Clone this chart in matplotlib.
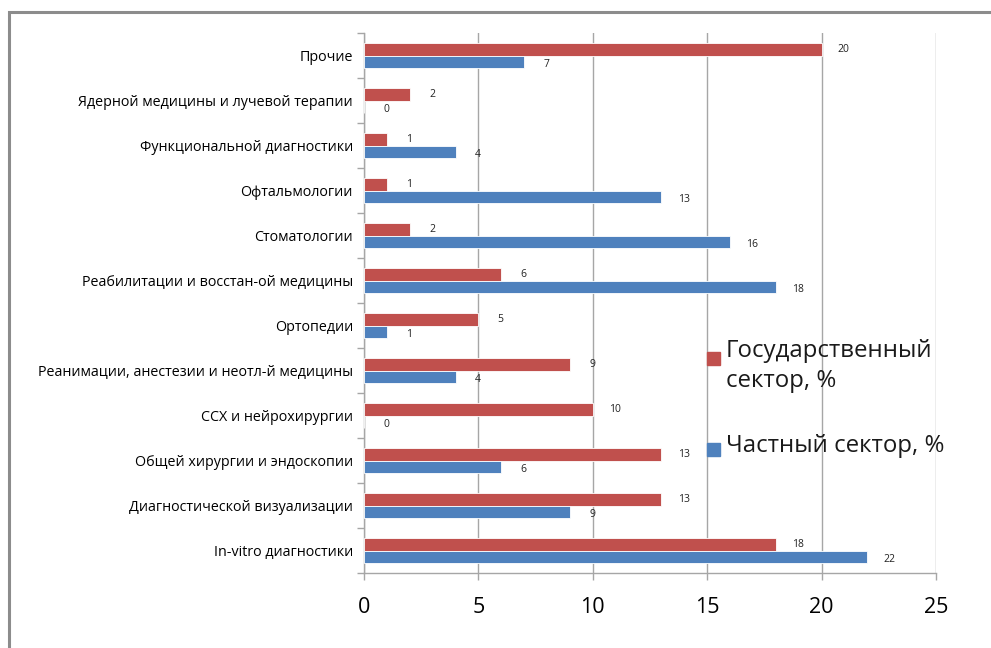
import matplotlib
matplotlib.use("Agg")
import matplotlib.pyplot as plt
from matplotlib.patches import Rectangle
import numpy as np

plt.rcParams['font.family'] = ['Open Sans', 'DejaVu Sans']

categories = [
    "In-vitro диагностики",
    "Диагностической визуализации",
    "Общей хирургии и эндоскопии",
    "ССХ и нейрохирургии",
    "Реанимации, анестезии и неотл-й медицины",
    "Ортопедии",
    "Реабилитации и восстан-ой медицины",
    "Стоматологии",
    "Офтальмологии",
    "Функциональной диагностики",
    "Ядерной медицины и лучевой терапии",
    "Прочие",
]
gov_values = [18, 13, 13, 10, 9, 5, 6, 2, 1, 1, 2, 20]
private_values = [22, 9, 6, 0, 4, 1, 18, 16, 13, 4, 0, 7]
gov_label = "Государственный\nсектор, %"
private_label = "Частный сектор, %"
x_ticks = [0, 5, 10, 15, 20, 25]

RED = "#C0504D"
BLUE = "#4F81BD"
GRID = "#A6A6A6"

fig = plt.figure(figsize=(9.91, 6.48), dpi=100)
# outer chart frame
fig.patches.append(Rectangle((9 / 991, -0.05), 1.2, 1.05 - 12 / 648,
                             transform=fig.transFigure, fill=False,
                             edgecolor="#8C8C8C", linewidth=2.2))

ax = fig.add_axes([364 / 991, 1 - 573 / 648, 572 / 991, 540 / 648])

y = np.arange(len(categories))
h = 0.27
ax.barh(y + h / 2, gov_values, height=h, color=RED, edgecolor="white", linewidth=0.6, zorder=3)
ax.barh(y - h / 2, private_values, height=h, color=BLUE, edgecolor="white", linewidth=0.6, zorder=3)

for yi, v in zip(y, gov_values):
    ax.annotate(str(v), (v, yi + h / 2), xytext=(16, 0), textcoords="offset points",
                ha="center", va="center", fontsize=7.5, color="#222222")
for yi, v in zip(y, private_values):
    ax.annotate(str(v), (v, yi - h / 2), xytext=(16, -2), textcoords="offset points",
                ha="center", va="center", fontsize=7.5, color="#222222")

ax.set_xlim(0, 25)
ax.set_ylim(-0.5, len(categories) - 0.5)
ax.set_xticks(x_ticks)
ax.set_xticklabels([str(t) for t in x_ticks], fontsize=15.5)
ax.set_yticks(y)
ax.set_yticklabels(categories, fontsize=10.3)
ax.set_yticks(np.arange(len(categories) + 1) - 0.5, minor=True)
ax.tick_params(axis="y", which="major", length=0, pad=8)
ax.tick_params(axis="y", which="minor", length=5, color=GRID, width=1)
ax.tick_params(axis="x", length=5, color=GRID, width=1, pad=12)

ax.grid(axis="x", color=GRID, linewidth=1, zorder=0)
for s in ["top", "right"]:
    ax.spines[s].set_visible(False)
for s in ["left", "bottom"]:
    ax.spines[s].set_color(GRID)
    ax.spines[s].set_linewidth(1)

# legend keys and entries
fig.patches.append(Rectangle((707 / 991, 1 - 365 / 648), 13 / 991, 13 / 648,
                             transform=fig.transFigure, color=RED))
fig.patches.append(Rectangle((707 / 991, 1 - 456 / 648), 13 / 991, 13 / 648,
                             transform=fig.transFigure, color=BLUE))
fig.text(726 / 991, 1 - 339 / 648, gov_label, fontsize=17.3, va="top", ha="left",
         color="#1a1a1a", linespacing=1.35)
fig.text(726 / 991, 1 - 434 / 648, private_label, fontsize=17.3, va="top", ha="left",
         color="#1a1a1a")

fig.savefig("out.png", dpi=100)
